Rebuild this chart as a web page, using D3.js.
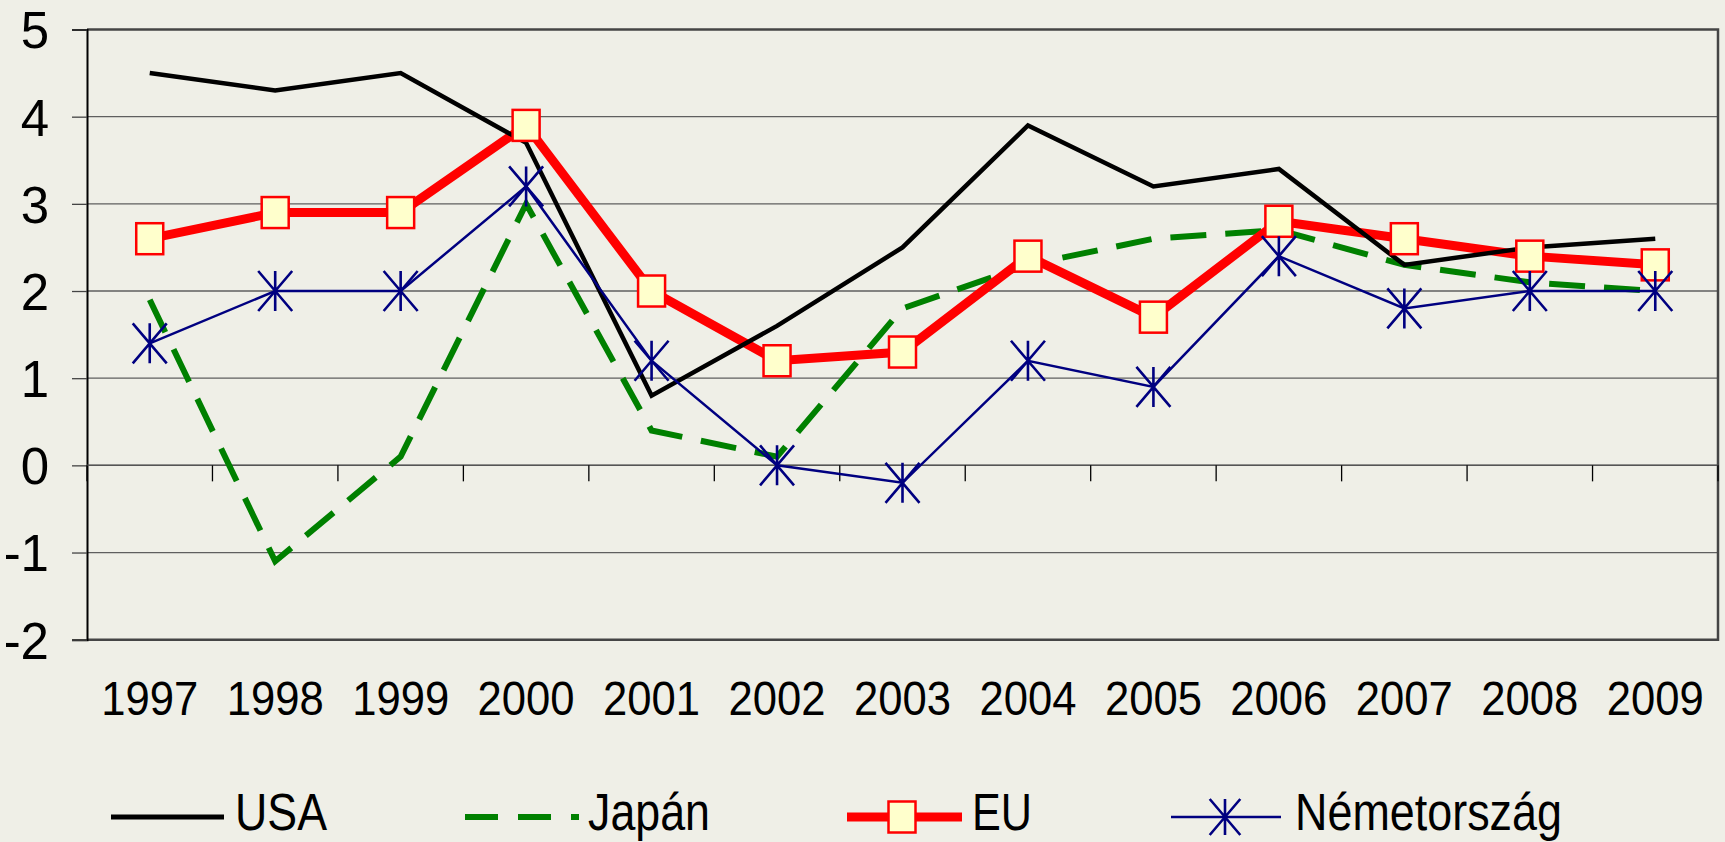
<!DOCTYPE html>
<html>
<head>
<meta charset="utf-8">
<script src="https://cdn.jsdelivr.net/npm/d3@7"></script>
<style>
  html, body { margin: 0; padding: 0; background: #efefe7; }
  svg { display: block; }
  text { font-family: "Liberation Sans", Arial, sans-serif; fill: #000; }
</style>
</head>
<body>
<svg id="chart" width="1725" height="842"></svg>
<script>
const years = ["1997","1998","1999","2000","2001","2002","2003","2004","2005","2006","2007","2008","2009"];
const usa        = [4.5, 4.3, 4.5, 3.7, 0.8, 1.6, 2.5, 3.9, 3.2, 3.4, 2.3, 2.5, 2.6];
const japan      = [1.9, -1.1, 0.1, 3.0, 0.4, 0.1, 1.8, 2.3, 2.6, 2.7, 2.3, 2.1, 2.0];
const eu         = [2.6, 2.9, 2.9, 3.9, 2.0, 1.2, 1.3, 2.4, 1.7, 2.8, 2.6, 2.4, 2.3];
const nemetorszag= [1.4, 2.0, 2.0, 3.2, 1.2, 0.0, -0.2, 1.2, 0.9, 2.4, 1.8, 2.0, 2.0];
const yTicks = [-2, -1, 0, 1, 2, 3, 4, 5];
const seriesNames = ["USA", "Japán", "EU", "Németország"];

const svg = d3.select("#chart");
const L = 87, R = 1718, T = 29.5, B = 639.7;

const x = d3.scaleBand().domain(years).range([L, R]).paddingInner(0).paddingOuter(0);
const cx = d => x(d) + x.bandwidth() / 2;
const y = d3.scaleLinear().domain([-2, 5]).range([B, T]);

// gridlines
svg.append("g").selectAll("line").data(yTicks.filter(v => v > -2 && v < 5)).join("line")
  .attr("x1", L).attr("x2", R).attr("y1", d => y(d)).attr("y2", d => y(d))
  .attr("stroke", "#5f5f5f").attr("stroke-width", 1.3);

// plot border (top, right, bottom)
svg.append("path")
  .attr("d", `M${L},${y(5)}H${R}V${y(-2)}H${L}`)
  .attr("fill", "none").attr("stroke", "#454545").attr("stroke-width", 2.5);

// Y axis
const yAxis = d3.axisLeft(y).tickValues(yTicks).tickSize(15).tickFormat(d => d);
const gy = svg.append("g").attr("transform", `translate(${L},0)`).call(yAxis);
gy.select(".domain").attr("stroke", "#000").attr("stroke-width", 2);
gy.selectAll(".tick line").attr("stroke", "#444").attr("stroke-width", 1.3);
gy.selectAll(".tick text")
  .attr("x", -38).attr("dy", "0.36em")
  .style("font-family", '"Liberation Sans", Arial, sans-serif')
  .style("font-size", "51px").attr("fill", "#000");

// X axis at y = 0 (ticks at category boundaries)
const gx = svg.append("g").attr("transform", `translate(0,${y(0)})`);
gx.append("line").attr("x1", L).attr("x2", R).attr("stroke", "#555").attr("stroke-width", 1.5);
const bounds = years.map(d => x(d)).concat([R]);
gx.selectAll("line.tk").data(bounds).join("line").attr("class", "tk")
  .attr("x1", d => d).attr("x2", d => d).attr("y1", 0).attr("y2", 16)
  .attr("stroke", "#000").attr("stroke-width", 1.3);

// X labels
const xl = svg.append("g").selectAll("text").data(years).join("text")
  .attr("x", d => cx(d)).attr("y", 715).attr("text-anchor", "middle")
  .style("font-size", "49px").text(d => d);
xl.each(function() {
  const w = this.getComputedTextLength();
  d3.select(this).attr("textLength", w * 0.89).attr("lengthAdjust", "spacingAndGlyphs");
});

const line = d3.line().x((d, i) => cx(years[i])).y(d => y(d));

// lines
svg.append("path").datum(japan).attr("d", line).attr("fill", "none")
  .attr("stroke", "#008000").attr("stroke-width", 6).attr("stroke-dasharray", "36,19");
svg.append("path").datum(eu).attr("d", line).attr("fill", "none")
  .attr("stroke", "#ff0000").attr("stroke-width", 9).attr("stroke-linejoin", "miter");
svg.append("path").datum(usa).attr("d", line).attr("fill", "none")
  .attr("stroke", "#000").attr("stroke-width", 4.5);
svg.append("path").datum(nemetorszag).attr("d", line).attr("fill", "none")
  .attr("stroke", "#000080").attr("stroke-width", 2.5);

// markers
function squareMarker(g, px, py) {
  g.append("rect").attr("x", px - 13.5).attr("y", py - 15.5).attr("width", 27).attr("height", 31)
    .attr("fill", "#ffffcc").attr("stroke", "#ff0000").attr("stroke-width", 2.5);
}
function starMarker(g, px, py, s) {
  const hw = 17 * s, hh = 20 * s;
  g.append("path")
    .attr("d", `M${px},${py - hh}V${py + hh}M${px - hw},${py - hh}L${px + hw},${py + hh}M${px - hw},${py + hh}L${px + hw},${py - hh}`)
    .attr("stroke", "#000080").attr("stroke-width", 2.6).attr("fill", "none");
}
const mEU = svg.append("g");
eu.forEach((v, i) => squareMarker(mEU, cx(years[i]), y(v)));
const mDE = svg.append("g");
nemetorszag.forEach((v, i) => starMarker(mDE, cx(years[i]), y(v), 1));

// legend
const ly = 817, lty = 830;
const leg = svg.append("g");
leg.append("line").attr("x1", 111).attr("x2", 224).attr("y1", ly).attr("y2", ly)
  .attr("stroke", "#000").attr("stroke-width", 5);
leg.append("line").attr("x1", 465).attr("x2", 579).attr("y1", ly).attr("y2", ly)
  .attr("stroke", "#008000").attr("stroke-width", 6).attr("stroke-dasharray", "33,20");
leg.append("line").attr("x1", 847).attr("x2", 962).attr("y1", ly).attr("y2", ly)
  .attr("stroke", "#ff0000").attr("stroke-width", 9);
squareMarker(leg, 902, ly);
leg.append("line").attr("x1", 1171).attr("x2", 1281).attr("y1", ly).attr("y2", ly)
  .attr("stroke", "#000080").attr("stroke-width", 2.6);
starMarker(leg, 1225, ly, 0.9);

const legText = [
  {name: seriesNames[0], x: 235, w: 92},
  {name: seriesNames[1], x: 588, w: 122},
  {name: seriesNames[2], x: 972, w: 60},
  {name: seriesNames[3], x: 1295, w: 267}
];
leg.selectAll("text").data(legText).join("text")
  .attr("x", d => d.x).attr("y", lty).style("font-size", "51px")
  .attr("textLength", d => d.w).attr("lengthAdjust", "spacingAndGlyphs")
  .text(d => d.name);
</script>
</body>
</html>
